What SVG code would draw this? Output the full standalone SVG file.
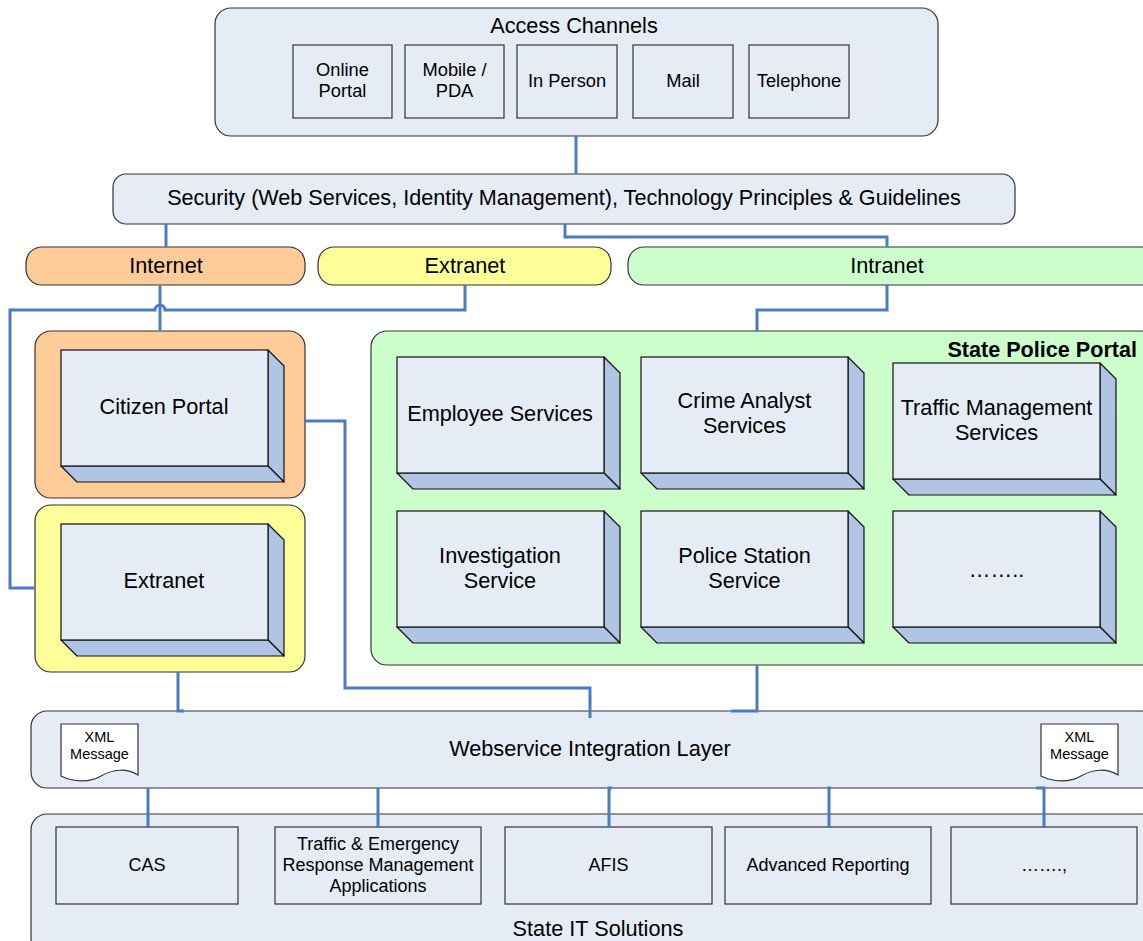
<svg xmlns="http://www.w3.org/2000/svg" width="1143" height="941" viewBox="0 0 1143 941">
  <style>
    text { font-family: "Liberation Sans", Arial, sans-serif; fill: #000; text-anchor: middle; }
    .panel { fill: #E6ECF6; stroke: #333; stroke-width: 1.2; }
    .box { fill: #E6ECF6; stroke: #333; stroke-width: 1.2; }
    .face { fill: #E6ECF6; stroke: #111; stroke-width: 1.2; }
    .side { fill: #B0C4E4; stroke: #111; stroke-width: 1.2; stroke-linejoin: round; }
    .peach { fill: #FFCC99; stroke: #333; stroke-width: 1.2; }
    .yellow { fill: #FFFF99; stroke: #333; stroke-width: 1.2; }
    .green { fill: #CCFFCC; stroke: #333; stroke-width: 1.2; }
    .doc { fill: #fff; stroke: #333; stroke-width: 1.2; }
    .wire { fill: none; stroke: #4A7CC4; stroke-width: 3; }
    .big { font-size: 21.7px; }
    .chan { font-size: 18.3px; }
    .app { font-size: 18px; }
    .note { font-size: 14.5px; }
  </style>
  <defs>
    <!-- 3D block: front face 207x116 with a 16px bevel to the right and below -->
    <g id="block">
      <polygon class="side" points="207,0 223,16 223,132 207,116"/>
      <polygon class="side" points="0,116 207,116 223,132 16,132"/>
      <rect class="face" x="0" y="0" width="207" height="116"/>
    </g>
    <!-- document shape with wavy lower edge -->
    <path id="docShape" class="doc" d="M0,0 H77 V51 C66,44 52,45 40,52 C28,59 12,58 0,52 Z"/>
  </defs>

  <!-- Access channels -->
  <g id="access-channels">
    <rect class="panel" x="215" y="8" width="723" height="128" rx="16"/>
    <text class="big" x="574" y="33">Access Channels</text>
    <rect class="box" x="293" y="45" width="99" height="73"/>
    <text class="chan" x="342.5" y="76">Online</text>
    <text class="chan" x="342.5" y="97">Portal</text>
    <rect class="box" x="405" y="45" width="99" height="73"/>
    <text class="chan" x="454.5" y="76">Mobile /</text>
    <text class="chan" x="454.5" y="97">PDA</text>
    <rect class="box" x="517" y="45" width="100" height="73"/>
    <text class="chan" x="567" y="87">In Person</text>
    <rect class="box" x="633" y="45" width="100" height="73"/>
    <text class="chan" x="683" y="87">Mail</text>
    <rect class="box" x="749" y="45" width="100" height="73"/>
    <text class="chan" x="799" y="87">Telephone</text>
  </g>

  <!-- Security band -->
  <g id="security">
    <rect class="panel" x="113" y="174" width="902" height="50" rx="13"/>
    <text x="564" y="205" style="font-size:21.6px">Security (Web Services, Identity Management), Technology Principles &amp; Guidelines</text>
  </g>

  <!-- Network zones -->
  <g id="zone-internet">
    <rect class="peach" x="26" y="247" width="279" height="38" rx="16"/>
    <text class="big" x="166" y="273">Internet</text>
  </g>
  <g id="zone-extranet">
    <rect class="yellow" x="318" y="247" width="293" height="38" rx="16"/>
    <text class="big" x="465" y="273">Extranet</text>
  </g>
  <g id="zone-intranet">
    <rect class="green" x="628" y="247" width="530" height="38" rx="16"/>
    <text class="big" x="887" y="273">Intranet</text>
  </g>

  <!-- Citizen portal -->
  <g id="citizen-portal">
    <rect class="peach" x="35" y="331" width="270" height="167" rx="16"/>
    <use href="#block" x="61" y="350"/>
    <text class="big" x="164" y="414">Citizen Portal</text>
  </g>

  <!-- Extranet -->
  <g id="extranet">
    <rect class="yellow" x="35" y="505" width="270" height="167" rx="16"/>
    <use href="#block" x="61" y="524"/>
    <text class="big" x="164" y="588">Extranet</text>
  </g>

  <!-- State police portal -->
  <g id="state-police-portal">
    <rect class="green" x="371" y="331" width="787" height="334" rx="16"/>
    <text x="1137" y="357" style="font-size:21.6px;font-weight:bold;text-anchor:end">State Police Portal</text>
  </g>
  <g id="employee-services">
    <use href="#block" x="397" y="357"/>
    <text class="big" x="500" y="421">Employee Services</text>
  </g>
  <g id="crime-analyst-services">
    <use href="#block" x="641" y="357"/>
    <text class="big" x="744.5" y="408">Crime Analyst</text>
    <text class="big" x="744.5" y="433">Services</text>
  </g>
  <g id="traffic-management-services">
    <use href="#block" x="893" y="363"/>
    <text class="big" x="996.5" y="415">Traffic Management</text>
    <text class="big" x="996.5" y="440">Services</text>
  </g>
  <g id="investigation-service">
    <use href="#block" x="397" y="511"/>
    <text class="big" x="500" y="563">Investigation</text>
    <text class="big" x="500" y="588">Service</text>
  </g>
  <g id="police-station-service">
    <use href="#block" x="641" y="511"/>
    <text class="big" x="744.5" y="563">Police Station</text>
    <text class="big" x="744.5" y="588">Service</text>
  </g>
  <g id="more-services">
    <use href="#block" x="893" y="511"/>
    <text class="big" x="996.5" y="577">……..</text>
  </g>

  <!-- Webservice integration layer -->
  <g id="webservice-layer">
    <rect class="panel" x="31" y="711" width="1127" height="77" rx="16"/>
    <text class="big" x="590" y="756">Webservice Integration Layer</text>
  </g>
  <g id="xml-message-left">
    <use href="#docShape" x="61" y="724"/>
    <text class="note" x="99.5" y="742">XML</text>
    <text class="note" x="99.5" y="759">Message</text>
  </g>
  <g id="xml-message-right">
    <use href="#docShape" x="1041" y="724"/>
    <text class="note" x="1079.5" y="742">XML</text>
    <text class="note" x="1079.5" y="759">Message</text>
  </g>

  <!-- State IT solutions -->
  <g id="state-it-solutions">
    <rect class="panel" x="31" y="814" width="1127" height="140" rx="16"/>
    <text class="big" x="598" y="936">State IT Solutions</text>
  </g>
  <g id="cas">
    <rect class="box" x="56" y="827" width="182" height="77"/>
    <text class="app" x="147" y="871">CAS</text>
  </g>
  <g id="traffic-emergency">
    <rect class="box" x="275" y="827" width="206" height="77"/>
    <text class="app" x="378" y="850">Traffic &amp; Emergency</text>
    <text class="app" x="378" y="871">Response Management</text>
    <text class="app" x="378" y="892">Applications</text>
  </g>
  <g id="afis">
    <rect class="box" x="505" y="827" width="207" height="77"/>
    <text class="app" x="608.5" y="871">AFIS</text>
  </g>
  <g id="advanced-reporting">
    <rect class="box" x="725" y="827" width="206" height="77"/>
    <text class="app" x="828" y="871">Advanced Reporting</text>
  </g>
  <g id="more-solutions">
    <rect class="box" x="951" y="827" width="186" height="77"/>
    <text class="app" x="1044" y="871">…….,</text>
  </g>

  <!-- Connectors -->
  <g id="connectors">
    <path class="wire" d="M576,136 V174"/>
    <path class="wire" d="M166,224 V247"/>
    <path class="wire" d="M565,224 V237 H887 V247"/>
    <path class="wire" d="M887,285 V310 H757 V331"/>
    <path class="wire" d="M160,285 V331"/>
    <path class="wire" d="M465,285 V310 H165 A5,5 0 0 0 155,310 H10 V588 H35"/>
    <path class="wire" d="M305,421 H345 V688 H590 V718"/>
    <path class="wire" d="M178,672 V711 H184"/>
    <path class="wire" d="M757,665 V711 H731"/>
    <path class="wire" d="M148,788 V828"/>
    <path class="wire" d="M378,788 V828"/>
    <path class="wire" d="M612,788 H609 V828"/>
    <path class="wire" d="M831,788 H829 V828"/>
    <path class="wire" d="M1036,788 H1044 V828"/>
  </g>
</svg>
